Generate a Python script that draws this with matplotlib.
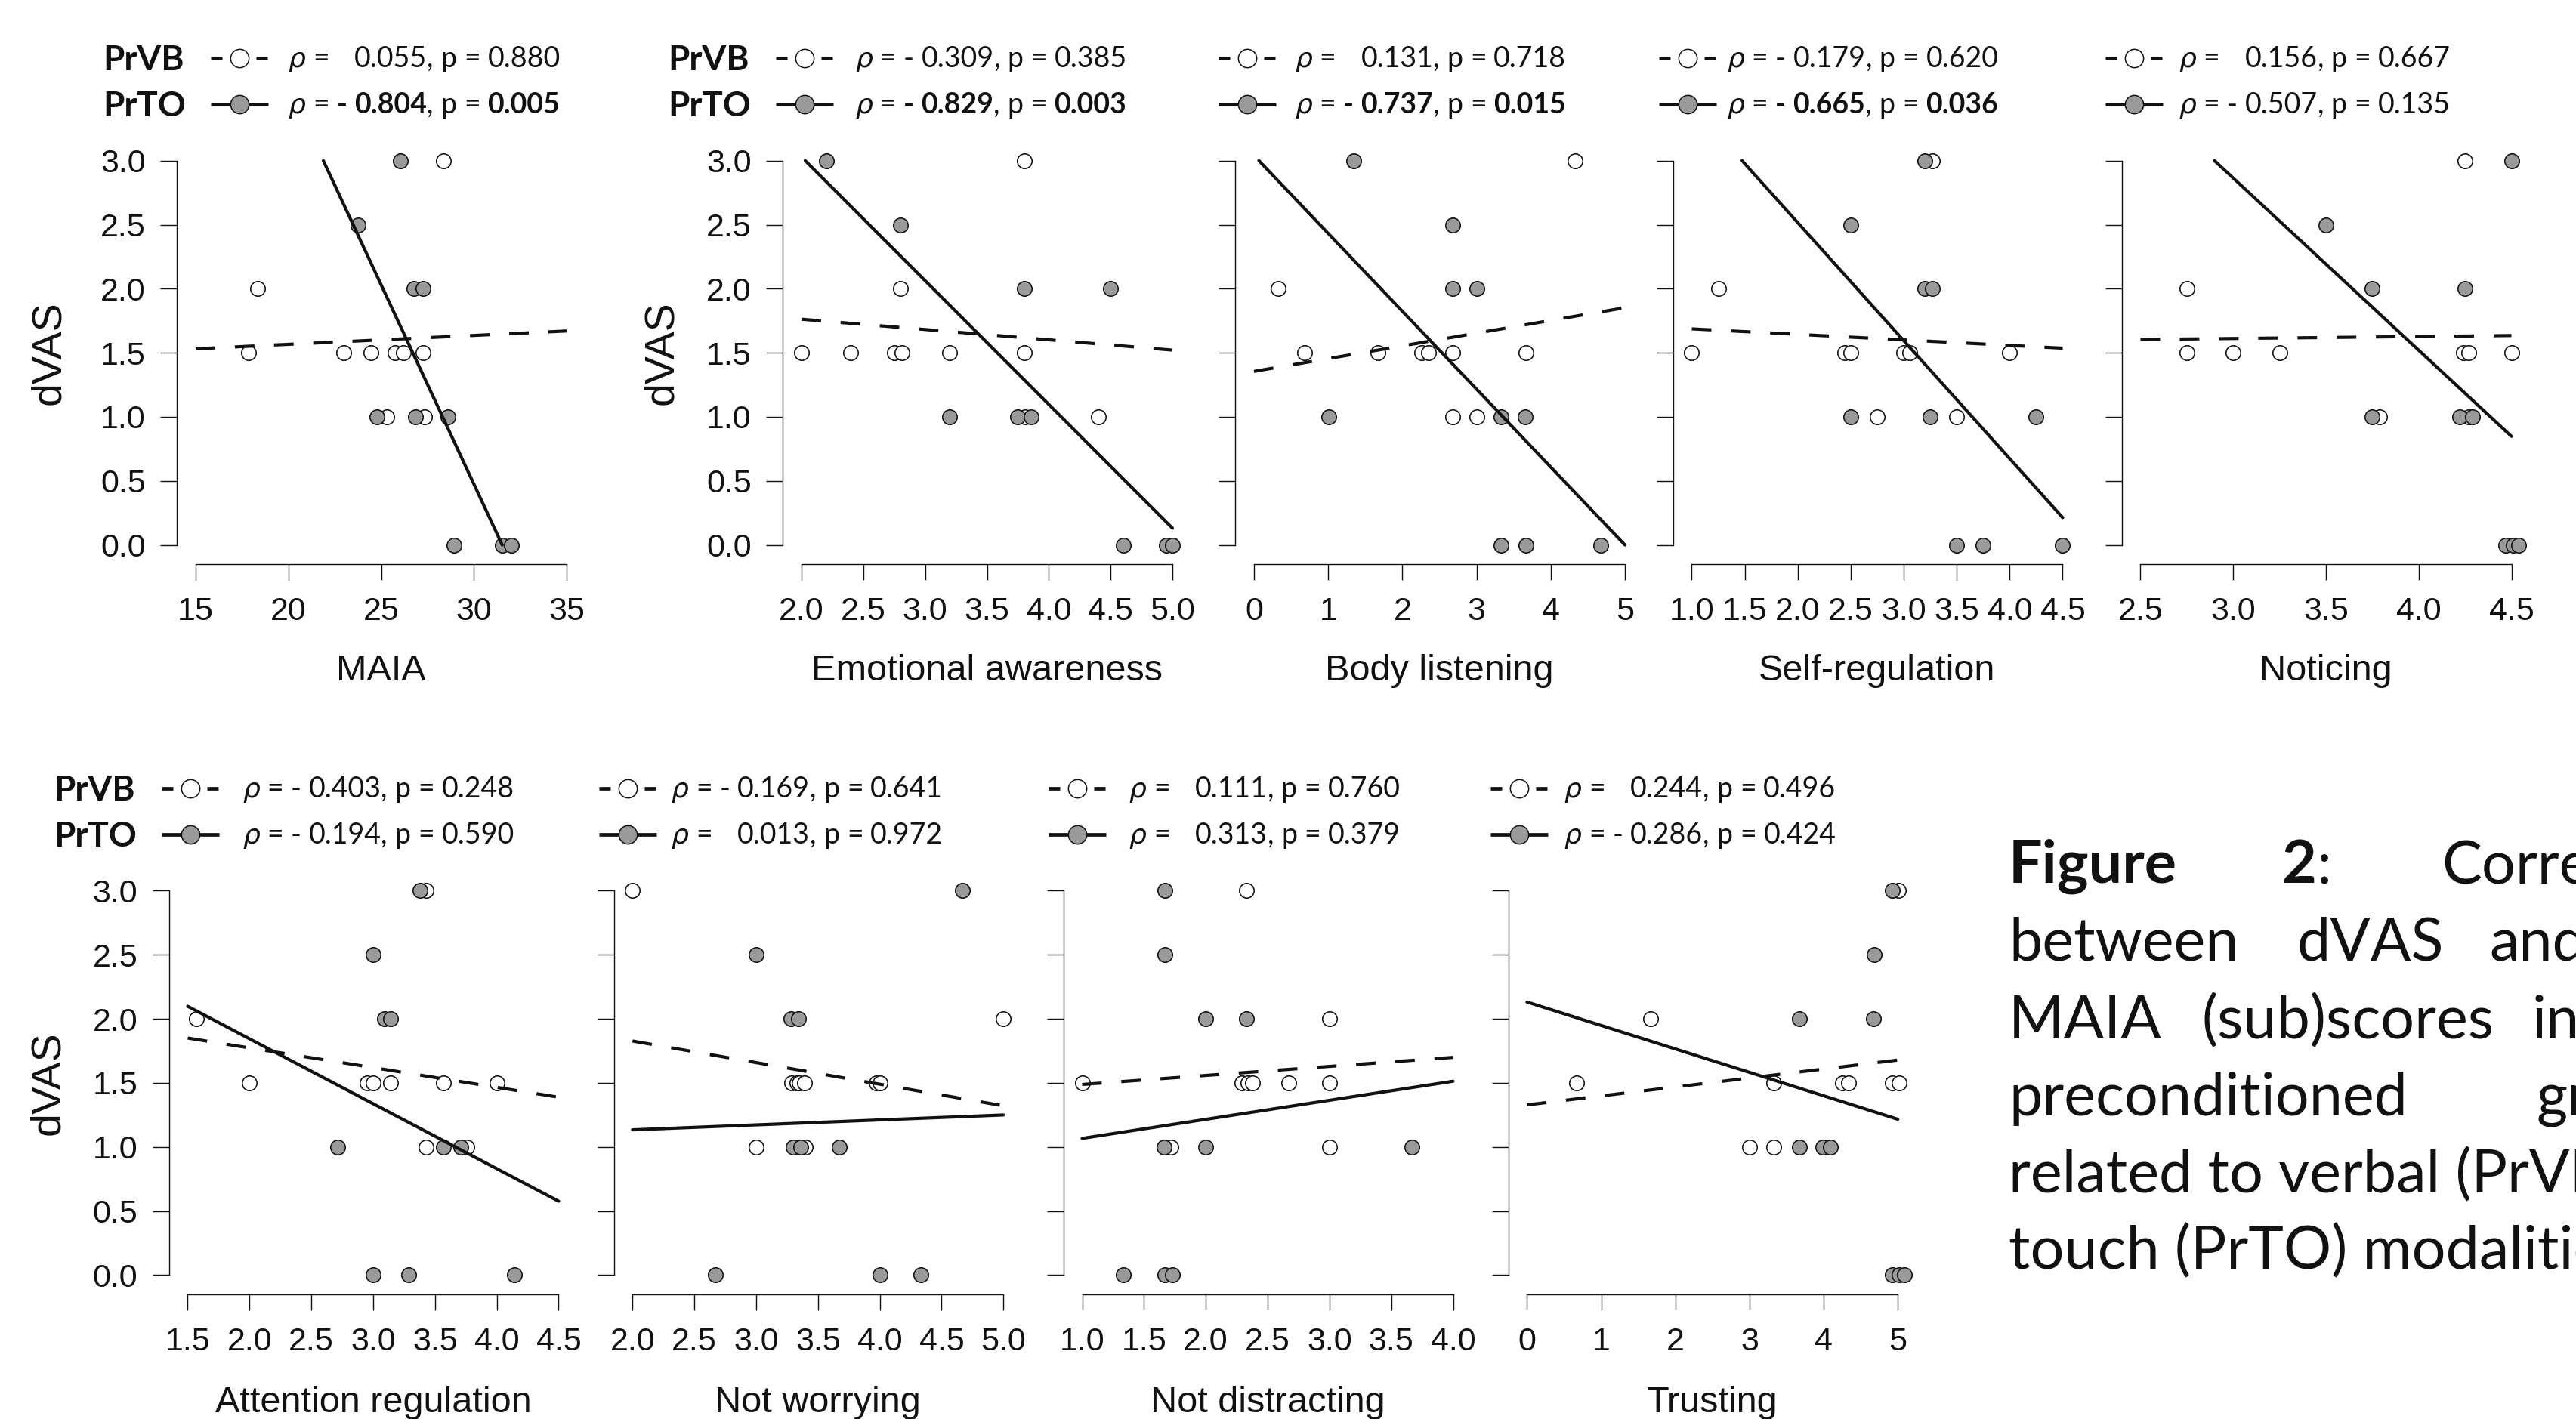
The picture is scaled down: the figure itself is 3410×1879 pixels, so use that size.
import numpy as np
import matplotlib
matplotlib.use("Agg")
import matplotlib.pyplot as plt
from matplotlib.lines import Line2D

plt.rcParams['lines.scale_dashes'] = False
plt.rcParams['font.family'] = ['Liberation Sans', 'DejaVu Sans']

# ------------------------------------------------------------------ data
names = ["MAIA", "Emotional awareness", "Body listening", "Self-regulation", "Noticing",
         "Attention regulation", "Not worrying", "Not distracting", "Trusting"]

x_ticks = [
    [15, 20, 25, 30, 35],
    [2.0, 2.5, 3.0, 3.5, 4.0, 4.5, 5.0],
    [0, 1, 2, 3, 4, 5],
    [1.0, 1.5, 2.0, 2.5, 3.0, 3.5, 4.0, 4.5],
    [2.5, 3.0, 3.5, 4.0, 4.5],
    [1.5, 2.0, 2.5, 3.0, 3.5, 4.0, 4.5],
    [2.0, 2.5, 3.0, 3.5, 4.0, 4.5, 5.0],
    [1.0, 1.5, 2.0, 2.5, 3.0, 3.5, 4.0],
    [0, 1, 2, 3, 4, 5],
]
x_tick_fmt = ["{:.0f}", "{:.1f}", "{:.0f}", "{:.1f}", "{:.1f}", "{:.1f}", "{:.1f}", "{:.1f}", "{:.0f}"]
y_ticks = [0.0, 0.5, 1.0, 1.5, 2.0, 2.5, 3.0]
y_tick_labels = ["0.0", "0.5", "1.0", "1.5", "2.0", "2.5", "3.0"]

# dVAS values (same subjects in every panel)
dvas_vb = [3.0, 2.0, 1.5, 1.5, 1.5, 1.5, 1.5, 1.5, 1.0, 1.0]
dvas_to = [3.0, 2.5, 2.0, 2.0, 1.0, 1.0, 1.0, 0.0, 0.0, 0.0]

# MAIA (sub)scores, PrVB group
score_vb = [
    [28.36, 18.36, 17.87, 22.98, 24.47, 25.74, 26.21, 27.28, 25.32, 27.34],
    [3.80, 2.80, 2.00, 2.40, 2.75, 2.81, 3.20, 3.80, 3.81, 4.40],
    [4.33, 0.33, 0.68, 1.67, 2.26, 2.35, 2.68, 3.67, 2.68, 3.00],
    [3.27, 1.25, 1.00, 2.44, 2.50, 3.00, 3.06, 4.00, 2.75, 3.50],
    [4.25, 2.75, 2.75, 3.00, 3.25, 4.24, 4.27, 4.50, 3.79, 4.27],
    [3.43, 1.57, 2.00, 2.95, 3.00, 3.14, 3.57, 4.00, 3.43, 3.76],
    [2.00, 5.00, 3.29, 3.33, 3.35, 3.39, 3.97, 4.00, 3.00, 3.40],
    [2.33, 3.00, 1.00, 2.29, 2.34, 2.38, 2.67, 3.00, 1.72, 3.00],
    [5.01, 1.67, 0.67, 3.33, 4.25, 4.34, 4.93, 5.02, 3.00, 3.33],
]
# MAIA (sub)scores, PrTO group
score_to = [
    [26.02, 23.77, 26.77, 27.28, 24.79, 26.87, 28.62, 28.94, 31.53, 32.02],
    [2.20, 2.80, 3.80, 4.50, 3.20, 3.75, 3.86, 4.60, 4.95, 5.00],
    [1.34, 2.68, 2.68, 3.00, 1.01, 3.33, 3.66, 3.33, 3.67, 4.67],
    [3.20, 2.50, 3.20, 3.27, 2.50, 3.25, 4.25, 3.50, 3.75, 4.50],
    [4.50, 3.50, 3.75, 4.25, 3.75, 4.22, 4.29, 4.47, 4.51, 4.54],
    [3.38, 3.00, 3.09, 3.14, 2.71, 3.57, 3.71, 3.00, 3.29, 4.14],
    [4.67, 3.00, 3.28, 3.34, 3.30, 3.36, 3.67, 2.67, 4.00, 4.33],
    [1.67, 1.67, 2.00, 2.33, 1.66, 2.00, 3.67, 1.33, 1.67, 1.73],
    [4.93, 4.68, 3.67, 4.67, 3.67, 3.99, 4.09, 4.93, 5.02, 5.09],
]

# fitted regression lines as drawn in the figure (dVAS = intercept + slope * score)
fit_vb_intercept = [1.427, 1.923, 1.355, 1.730, 1.565, 2.081, 2.164, 1.417, 1.328]
fit_vb_slope = [0.00695, -0.0804, 0.0994, -0.0431, 0.0155, -0.154, -0.1686, 0.0705, 0.070]
fit_to_intercept = [9.806, 4.961, 3.040, 4.358, 6.896, 2.858, 1.056, 0.918, 2.131]
fit_to_slope = [-0.311, -0.966, -0.608, -0.921, -1.344, -0.507, 0.0387, 0.1487, -0.183]

rho_vb = [0.055, -0.309, 0.131, -0.179, 0.156, -0.403, -0.169, 0.111, 0.244]
p_vb = [0.880, 0.385, 0.718, 0.620, 0.667, 0.248, 0.641, 0.760, 0.496]
rho_to = [-0.804, -0.829, -0.737, -0.665, -0.507, -0.194, 0.013, 0.313, -0.286]
p_to = [0.005, 0.003, 0.015, 0.036, 0.135, 0.590, 0.972, 0.379, 0.424]

group_names = ["PrVB", "PrTO"]

caption_lines = [
    [("Figure", "bold", 2659), ("2", "bold", 3021), (":", "normal", None), ("Correlations", "normal", 3232)],
    [("between", "normal", 2659), ("dVAS", "normal", 3041), ("and", "normal", 3295)],
    [("MAIA", "normal", 2659), ("(sub)scores", "normal", 2914), ("in", "normal", 3352)],
    [("preconditioned", "normal", 2659), ("groups", "normal", 3358)],
    [("related to verbal (PrVB) and", "normal", 2659)],
    [("touch (PrTO) modalities.", "normal", 2659)],
]
caption_baselines = [1169, 1271, 1375, 1477, 1579, 1680]

# ------------------------------------------------------------------ layout (pixels, top-left origin)
W, H, DPI = 3410, 1879, 100
X0 = [259, 1061, 1660, 2239.5, 2833.5, 248.5, 837.3, 1432.5, 2021.3]
TICK_W = 491
ROW_Y3 = [212.7, 1179.4]
ROW_Y0 = [721.6, 1688.4]
LEG_CIRCLE = [316.7, 1065, 1651, 2234, 2825, 251.5, 830.6, 1426, 2011.4]
LEG_TEXT = [381.7, 1132, 1714, 2286, 2884, 321, 888.7, 1494.5, 2070.7]
LEG_ROWS = [(76.7, 137.7), (1043.7, 1104.7)]
GROUP_X = {0: 136.7, 1: 883.8, 5: 71.4}
DVAS_X = {0: 65, 1: 876, 5: 64}
XLAB_BASE = [901, 1870]

INK = '#111111'
GRAY = '#9a9a9a'
LEG_SIZE = 27

fig = plt.figure(figsize=(W / DPI, H / DPI), dpi=DPI)
fig.patch.set_facecolor('white')
renderer = fig.canvas.get_renderer()


def fx(x):
    return x / W


def fy(y):
    return 1 - y / H


def clipped_line(a, b, xmin, xmax):
    # line y = a + b x, restricted to the box [xmin, xmax] x [0, 3]
    xs = np.array([xmin, xmax], float)
    ys = a + b * xs
    for k in range(2):
        if ys[k] > 3:
            xs[k] = (3 - a) / b
            ys[k] = 3
        elif ys[k] < 0:
            xs[k] = (0 - a) / b
            ys[k] = 0
    return xs, ys


def text_width(s, **kw):
    t = fig.text(0, 0, s, **kw)
    w = t.get_window_extent(renderer).width
    t.remove()
    return w


for i in range(9):
    row = 0 if i < 5 else 1
    xt = x_ticks[i]
    xmin, xmax = xt[0], xt[-1]
    r = xmax - xmin
    y3, y0 = ROW_Y3[row], ROW_Y0[row]
    hpx = y0 - y3
    left = X0[i] - 0.05 * TICK_W
    width = 1.1 * TICK_W
    top = y3 - 0.05 * hpx
    height = 1.1 * hpx
    ax = fig.add_axes([fx(left), fy(top + height), width / W, height / H])
    ax.set_xlim(xmin - 0.05 * r, xmax + 0.05 * r)
    ax.set_ylim(-0.15, 3.15)
    ax.patch.set_alpha(0)
    for s in ['top', 'right']:
        ax.spines[s].set_visible(False)
    ax.spines['left'].set_bounds(0, 3)
    ax.spines['bottom'].set_bounds(xmin, xmax)
    for s in ['left', 'bottom']:
        ax.spines[s].set_linewidth(1.0)
        ax.spines[s].set_color(INK)
    ax.set_xticks(xt)
    ax.set_xticklabels([x_tick_fmt[i].format(v) for v in xt])
    ax.set_yticks(y_ticks)
    if i in DVAS_X:
        ax.set_yticklabels(y_tick_labels)
    else:
        ax.set_yticklabels([])
    ax.tick_params(axis='y', direction='out', length=16, width=1.0, pad=14,
                   labelsize=31, color=INK, labelcolor=INK)
    ax.tick_params(axis='x', direction='out', length=15, width=1.0, pad=16,
                   labelsize=31, color=INK, labelcolor=INK)

    # points
    ax.plot(score_vb[i], dvas_vb, 'o', ms=14, mfc='white', mec=INK, mew=1.15,
            ls='none', clip_on=False, zorder=3)
    ax.plot(score_to[i], dvas_to, 'o', ms=14, mfc=GRAY, mec=INK, mew=1.15,
            ls='none', clip_on=False, zorder=4)
    # regression lines
    xs, ys = clipped_line(fit_vb_intercept[i], fit_vb_slope[i], xmin, xmax)
    ax.plot(xs, ys, color=INK, lw=3.0, linestyle=(0, (18.7, 18.7)),
            dash_capstyle='butt', zorder=5, clip_on=False)
    xs, ys = clipped_line(fit_to_intercept[i], fit_to_slope[i], xmin, xmax)
    ax.plot(xs, ys, color=INK, lw=3.0, solid_capstyle='round', zorder=6, clip_on=False)

    # axis labels
    fig.text(fx(X0[i] + TICK_W / 2), fy(XLAB_BASE[row]), names[i], ha='center',
             va='baseline', fontsize=35, color=INK)
    if i in DVAS_X:
        fig.text(fx(DVAS_X[i]), fy((y3 + y0) / 2), "dVAS", rotation=90, ha='center',
                 va='center', fontsize=40, color=INK)

    # legend block
    sp = text_width("0 0", family='Lato', fontsize=LEG_SIZE) - text_width("00", family='Lato', fontsize=LEG_SIZE)
    for g in range(2):
        cy = LEG_ROWS[row][g]
        cx = LEG_CIRCLE[i]
        dashed = (g == 0)
        ls = (0, (10.8, 10.8)) if dashed else '-'
        fig.add_artist(Line2D([fx(cx - 38), fx(cx + 38)], [fy(cy), fy(cy)],
                              transform=fig.transFigure, color=INK, lw=3.4,
                              linestyle=ls, solid_capstyle='butt', dash_capstyle='butt'))
        fig.add_artist(Line2D([fx(cx)], [fy(cy)], transform=fig.transFigure,
                              marker='o', ms=17.5, mfc='white' if g == 0 else GRAY,
                              mec=INK, mew=1.1, ls='none'))
        if i in GROUP_X:
            fig.text(fx(GROUP_X[i]), fy(cy + 16.5), group_names[g], ha='left',
                     va='baseline', fontsize=33, fontweight='bold', family='Lato',
                     color=INK)
        rho = rho_vb[i] if g == 0 else rho_to[i]
        p = p_vb[i] if g == 0 else p_to[i]
        sig = p < 0.05
        wnum = 'bold' if sig else 'normal'
        base = fy(cy + 12.5)
        reg = dict(family='Lato', fontsize=LEG_SIZE)
        bld = dict(family='Lato', fontsize=LEG_SIZE, fontweight=wnum)
        tokens = [
            ("\u03c1", dict(family='DejaVu Sans', style='italic', fontsize=LEG_SIZE - 1), True, True),
            ("=", reg, True, True),
            ("-", bld, rho < 0, True),
            ("{:.3f}".format(abs(rho)), bld, True, False),
            (",", reg, True, True),
            ("p", reg, True, True),
            ("=", reg, True, True),
            ("{:.3f}".format(p), bld, True, False),
        ]
        xpos = LEG_TEXT[i]
        for txt, kw, vis, space_after in tokens:
            t = fig.text(fx(xpos), base, txt, ha='left', va='baseline', color=INK, **kw)
            if txt == "-":
                adv = text_width("0-0", **kw) - text_width("00", **kw)
            else:
                adv = t.get_window_extent(renderer).width
            if not vis:
                t.set_alpha(0)
            xpos = xpos + adv + (sp if space_after else 0)

# caption (justified lines, clipped by the right edge as in the source)
for line, base in zip(caption_lines, caption_baselines):
    xpos = None
    for word, weight, x in line:
        xx = x if x is not None else xpos
        t = fig.text(fx(xx), fy(base), word, family='Lato', fontsize=57,
                     fontweight=weight, ha='left', va='baseline', color=INK)
        xpos = xx + t.get_window_extent(renderer).width

fig.savefig("out.png", dpi=DPI, facecolor='white')
